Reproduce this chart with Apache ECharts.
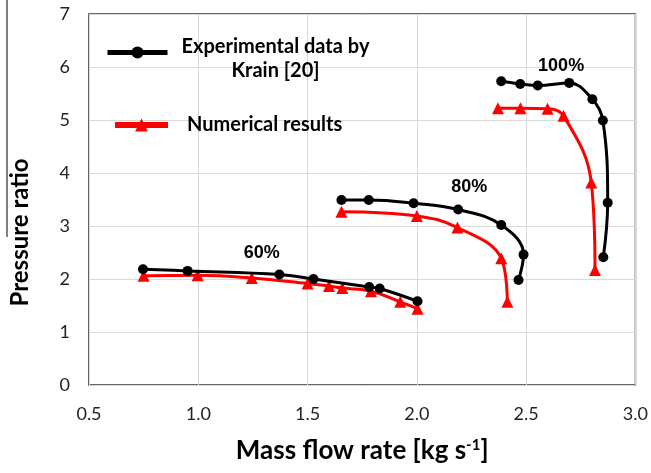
<!DOCTYPE html>
<html>
<head>
<meta charset="utf-8">
<script src="https://cdn.jsdelivr.net/npm/echarts@6/dist/echarts.min.js"></script>
<style>
  html, body { margin: 0; padding: 0; background: #fff; }
  #chart { width: 651px; height: 473px; }
</style>
</head>
<body>
<div id="chart"></div>
<script>
// speed lines, experimental (Krain)
const exp60Flow = [0.747, 0.951, 1.371, 1.527, 1.782, 1.83, 2.003]
const exp60PR = [2.185, 2.153, 2.085, 2.00, 1.85, 1.82, 1.58]
const exp80Flow = [1.655, 1.78, 1.985, 2.189, 2.386, 2.488, 2.465]
const exp80PR = [3.49, 3.49, 3.43, 3.31, 3.02, 2.46, 1.98]
const exp100Flow = [2.386, 2.473, 2.553, 2.697, 2.803, 2.851, 2.873, 2.853]
const exp100PR = [5.73, 5.68, 5.65, 5.70, 5.39, 4.99, 3.44, 2.41]

// speed lines, numerical
const num60Flow = [0.75, 0.997, 1.245, 1.50, 1.598, 1.659, 1.79, 1.924, 2.003]
const num60PR = [2.06, 2.07, 2.02, 1.915, 1.87, 1.83, 1.77, 1.57, 1.44]
const num80Flow = [1.655, 2.0, 2.186, 2.386, 2.414]
const num80PR = [3.27, 3.19, 2.97, 2.39, 1.57]
const num100Flow = [2.371, 2.474, 2.598, 2.671, 2.798, 2.815]
const num100PR = [5.22, 5.22, 5.21, 5.08, 3.82, 2.17]

// speed annotations
const speedLabels = ['60%', '80%', '100%']
const speedLabelX = [1.29, 2.24, 2.66]
const speedLabelY = [2.49, 3.73, 6.02]

const xTicks = ['0.5', '1.0', '1.5', '2.0', '2.5', '3.0']

const expName = 'Experimental data by Krain [20]'
const numName = 'Numerical results'

const pairs = (xs, ys) => xs.map((x, i) => [x, ys[i]])

const expSeries = (xs, ys) => ({
  name: expName,
  type: 'line',
  smooth: 0.4,
  data: pairs(xs, ys),
  symbol: 'circle',
  symbolSize: 10,
  itemStyle: {color: '#000'},
  lineStyle: {color: '#000', width: 3},
  z: 3,
})

const numSeries = (xs, ys) => ({
  name: numName,
  type: 'line',
  smooth: 0.4,
  data: pairs(xs, ys),
  symbol: 'triangle',
  symbolSize: 12,
  itemStyle: {color: '#ff0000'},
  lineStyle: {color: '#ff0000', width: 3},
  z: 2,
})

const tickFont = {fontFamily: 'Lato', fontSize: 18, color: '#222'}
const legendFont = {fontFamily: 'Lato', fontWeight: 'bold', fontSize: 20, lineHeight: 24, color: '#000'}

const chart = echarts.init(document.getElementById('chart'))
chart.setOption({
  animation: false,
  grid: {
    left: 87, top: 14, right: 14, bottom: 88,
    show: true, borderColor: '#333', borderWidth: 1.5,
  },
  legend: [
    {
      data: [expName],
      left: 105, top: 37, padding: 0,
      itemWidth: 60, itemHeight: 15,
      lineStyle: {width: 5},
      formatter: () => '{a|Experimental data by}\n{a|Krain [20]}',
      textStyle: {
        padding: [13, 0, 0, 9],
        rich: {a: {...legendFont, align: 'center'}},
      },
    },
    {
      data: [numName],
      left: 112, top: 113, padding: 0,
      itemWidth: 53, itemHeight: 16,
      lineStyle: {width: 6},
      textStyle: {padding: [0, 0, 0, 14], ...legendFont},
    },
  ],
  xAxis: {
    type: 'value',
    min: 0.5, max: 3.0, interval: 0.5,
    name: 'Mass flow rate [kg s{sup|-1}]',
    nameLocation: 'middle',
    nameGap: 53,
    nameTextStyle: {
      fontFamily: 'Lato', fontWeight: 'bold', fontSize: 26, color: '#000',
      rich: {sup: {fontFamily: 'Lato', fontWeight: 'bold', fontSize: 15, verticalAlign: 'top', color: '#000'}},
    },
    axisLine: {show: false},
    axisTick: {show: false},
    axisLabel: {...tickFont, margin: 20, formatter: (v) => xTicks[Math.round((v - 0.5) / 0.5)]},
    splitLine: {lineStyle: {color: '#d9d9d9', width: 1}},
  },
  yAxis: {
    type: 'value',
    min: 0, max: 7, interval: 1,
    name: 'Pressure ratio',
    nameLocation: 'middle',
    nameGap: 57,
    nameTextStyle: {fontFamily: 'Lato', fontWeight: 'bold', fontSize: 24, color: '#000', padding: [0, 66, 0, 0]},
    axisLine: {show: false},
    axisTick: {show: false},
    axisLabel: {...tickFont, margin: 19},
    splitLine: {lineStyle: {color: '#d9d9d9', width: 1}},
  },
  graphic: [
    {type: 'line', shape: {x1: 7, y1: 0, x2: 7, y2: 237}, style: {stroke: '#000', lineWidth: 1}},
  ],
  series: [
    numSeries(num60Flow, num60PR),
    numSeries(num80Flow, num80PR),
    numSeries(num100Flow, num100PR),
    expSeries(exp60Flow, exp60PR),
    expSeries(exp80Flow, exp80PR),
    expSeries(exp100Flow, exp100PR),
    {
      name: 'speed',
      type: 'scatter',
      symbolSize: 0,
      silent: true,
      itemStyle: {color: '#000', opacity: 1},
      data: pairs(speedLabelX, speedLabelY),
      label: {
        show: true,
        position: 'inside',
        formatter: (p) => speedLabels[p.dataIndex],
        fontFamily: 'Liberation Sans', fontWeight: 'bold', fontSize: 18,
        color: '#000', opacity: 1, textBorderWidth: 0,
      },
      z: 4,
    },
  ],
})
</script>
</body>
</html>
